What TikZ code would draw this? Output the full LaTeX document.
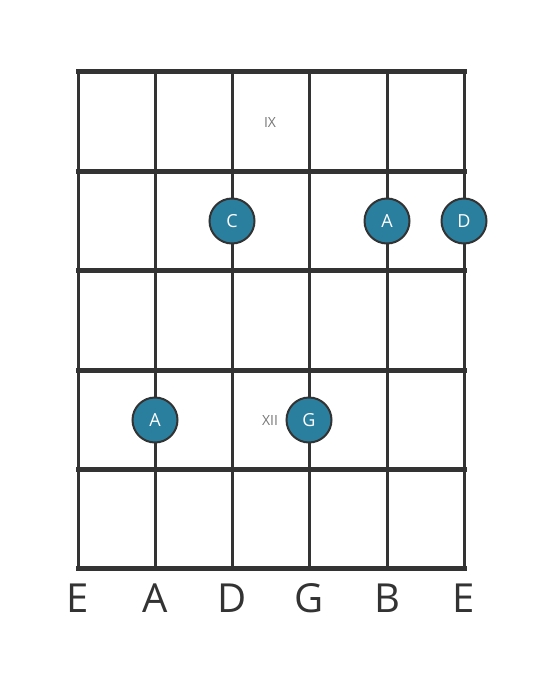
\documentclass[tikz,border=0pt]{standalone}
\usepackage{fontspec}
\setmainfont{Open Sans}
\usepackage{xcolor}
\definecolor{linegray}{HTML}{333333}
\definecolor{noteblue}{HTML}{2A7F9E}
\definecolor{fretlabel}{HTML}{777777}

\begin{document}
\begin{tikzpicture}[x=1pt,y=-1pt,
    string line/.style={draw=linegray,line width=3pt},
    fret line/.style={draw=linegray,line width=5pt,line cap=rect},
    note/.style={circle,draw=linegray,line width=2pt,fill=noteblue,minimum size=45pt,inner sep=0pt,text=white,font=\fontsize{18}{18}\selectfont},
    fret name/.style={text=fretlabel,font=\fontsize{14}{14}\selectfont},
    string name/.style={text=linegray,font=\fontsize{40}{40}\selectfont}]

                \useasboundingbox (0,0) rectangle (559,682);

                % strings
                \foreach \i/\x in {1/78,2/155,3/232,4/309,5/387,6/464}{
                    \coordinate (top\i) at (\x,72);
                    \coordinate (bot\i) at (\x,568);
                    \draw[string line] (top\i) -- (bot\i);
                }

                % frets
                \foreach \j/\y in {0/72,1/171,2/270,3/370,4/469,5/568}{
                    \coordinate (left\j) at (78,\y);
                    \coordinate (right\j) at (464,\y);
                    \draw[fret line] (left\j) -- (right\j);
                }

                % string names
                \foreach \i/\x/\n in {1/78/E,2/155/A,3/232/D,4/309/G,5/387/B,6/464/E}{
                    \node[string name] (name\i) at (\x,598) {\n};
                }

                \node[fret name] (ix) at (270,123) {IX};
                \node[fret name] (xii) at (270,420) {XII};

                \node[note] (c) at (232,221) {C};
                \node[note] (a1) at (387,221) {A};
                \node[note] (d) at (464,221) {D};
                \node[note] (a2) at (155,420) {A};
                \node[note] (g) at (309,420) {G};

            \end{tikzpicture}
\end{document}
